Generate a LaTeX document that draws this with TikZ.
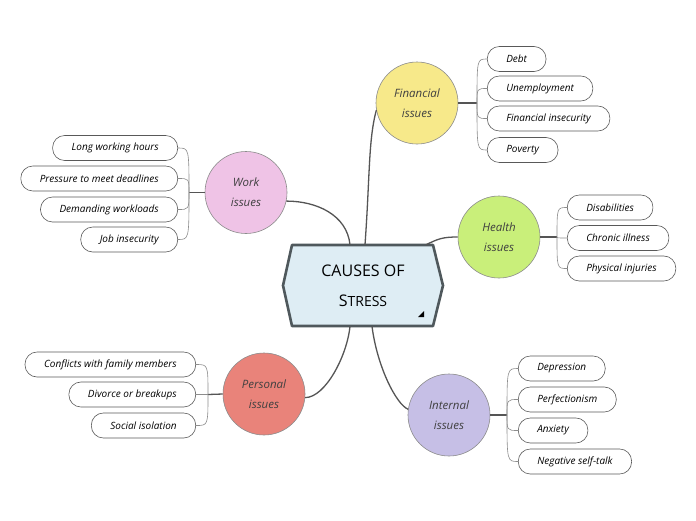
\documentclass[tikz,border=0pt]{standalone}
\usepackage{fontspec}
\setmainfont{Open Sans}
\usepackage{tikz}

\definecolor{hubfill}{HTML}{DEEDF4}
\definecolor{hubedge}{HTML}{4F585C}
\definecolor{finfill}{HTML}{F7E98A}
\definecolor{workfill}{HTML}{EFC3E6}
\definecolor{healthfill}{HTML}{C9EF7A}
\definecolor{persfill}{HTML}{E9837A}
\definecolor{intfill}{HTML}{C6BFE6}
\definecolor{linegray}{HTML}{555555}

\tikzset{
  hubtext/.style={minimum width=160pt, minimum height=81pt, inner sep=0pt, align=center, font=\fontsize{16}{30}\selectfont},
  topic/.style={circle, draw=black!45, line width=0.6pt, minimum size=82pt, inner sep=0pt, align=center, text=black!75, font=\fontsize{11.5}{20}\selectfont\itshape},
  leaf/.style={draw=black!65, line width=0.6pt, rounded corners=12pt, minimum height=25pt, inner xsep=19pt, font=\fontsize{10}{11}\selectfont\itshape},
  hubline/.style={draw=linegray, line width=1.3pt},
  leafline/.style={draw=black!45, line width=0.6pt},
}

\begin{document}
\begin{tikzpicture}[x=1pt, y=-1pt]
    \fill[white] (0, 0) rectangle (696, 520);
    \useasboundingbox (0, 0) rectangle (696, 520);
    % central topic
    \filldraw[fill=hubfill, draw=hubedge, line width=2.6pt, line join=round]
        (292, 245) -- (433, 245) -- (443, 285.5) -- (433, 326) -- (292, 326) -- (283, 285.5) -- cycle;
    \node[hubtext] at (363, 285.5) (hub) {CAUSES OF\\S{\fontsize{14}{14}\selectfont TRESS}};
    \fill (418, 317) -- (424, 317) -- (424, 311) -- cycle;
    % main topics
    \node[topic, fill=finfill] at (417, 103) (fin) {Financial\\issues};
    \node[topic, fill=workfill] at (246, 192.5) (work) {Work\\issues};
    \node[topic, fill=healthfill] at (499, 237) (health) {Health\\issues};
    \node[topic, fill=persfill] at (264, 394) (pers) {Personal\\issues};
    \node[topic, fill=intfill] at (449, 415) (int) {Internal\\issues};
    % hub connectors
    \draw[hubline] ([xshift=2pt]hub.north) .. controls +(5, -70) and +(-8, 30) .. (fin.190);
    \draw[hubline] ([xshift=-13pt]hub.north) .. controls +(-3, -30) and +(30, 0) .. (work.-12);
    \draw[hubline] ([xshift=63pt]hub.north) .. controls +(12, -6) and +(-15, 0) .. (health.180);
    \draw[hubline] ([xshift=-13pt]hub.south) .. controls +(-3, 30) and +(20, 0) .. (pers.-5);
    \draw[hubline] ([xshift=9pt]hub.south) .. controls +(5, 40) and +(-12, -5) .. (int.172);
    % financial issues
    \node[leaf, anchor=west] at (487, 59) (debt) {Debt};
    \node[leaf, anchor=west] at (487, 88.5) (unemp) {Unemployment};
    \node[leaf, anchor=west] at (487, 118.5) (insec) {Financial insecurity};
    \node[leaf, anchor=west] at (487, 150) (poverty) {Poverty};
    \coordinate (finj) at (477, 103);
    \draw[hubline] (fin.east) -- (finj);
    \foreach \leaf in {debt, unemp, insec, poverty}
        \draw[leafline] (finj) .. controls (finj |- \leaf.west) .. (\leaf.west);
    % work issues
    \node[leaf, anchor=east] at (178, 148) (hours) {Long working hours};
    \node[leaf, anchor=east] at (178, 178.5) (deadlines) {Pressure to meet deadlines};
    \node[leaf, anchor=east] at (178, 209.5) (workload) {Demanding workloads};
    \node[leaf, anchor=east] at (178, 239.5) (job) {Job insecurity};
    \coordinate (workj) at (189, 192.5);
    \draw[hubline] (work.west) -- (workj);
    \foreach \leaf in {hours, deadlines, workload, job}
        \draw[leafline] (workj) .. controls (workj |- \leaf.east) .. (\leaf.east);
    % health issues
    \node[leaf, anchor=west] at (567, 207.5) (disab) {Disabilities};
    \node[leaf, anchor=west] at (567, 238) (chronic) {Chronic illness};
    \node[leaf, anchor=west] at (567, 268.5) (injuries) {Physical injuries};
    \coordinate (healthj) at (557, 237);
    \draw[hubline] (health.east) -- (healthj);
    \foreach \leaf in {disab, chronic, injuries}
        \draw[leafline] (healthj) .. controls (healthj |- \leaf.west) .. (\leaf.west);
    % personal issues
    \node[leaf, anchor=east] at (196, 364.5) (family) {Conflicts with family members};
    \node[leaf, anchor=east] at (196, 394.5) (divorce) {Divorce or breakups};
    \node[leaf, anchor=east] at (196, 425.5) (isolation) {Social isolation};
    \coordinate (persj) at (208, 394.5);
    \draw[hubline] (pers.west) -- (persj);
    \foreach \leaf in {family, divorce, isolation}
        \draw[leafline] (persj) .. controls (persj |- \leaf.east) .. (\leaf.east);
    % internal issues
    \node[leaf, anchor=west] at (518, 368.5) (depr) {Depression};
    \node[leaf, anchor=west] at (518, 399.5) (perf) {Perfectionism};
    \node[leaf, anchor=west] at (518, 430.5) (anx) {Anxiety};
    \node[leaf, anchor=west] at (518, 461.5) (selftalk) {Negative self-talk};
    \coordinate (intj) at (507, 415);
    \draw[hubline] (int.east) -- (intj);
    \foreach \leaf in {depr, perf, anx, selftalk}
        \draw[leafline] (intj) .. controls (intj |- \leaf.west) .. (\leaf.west);

\end{tikzpicture}
\end{document}
